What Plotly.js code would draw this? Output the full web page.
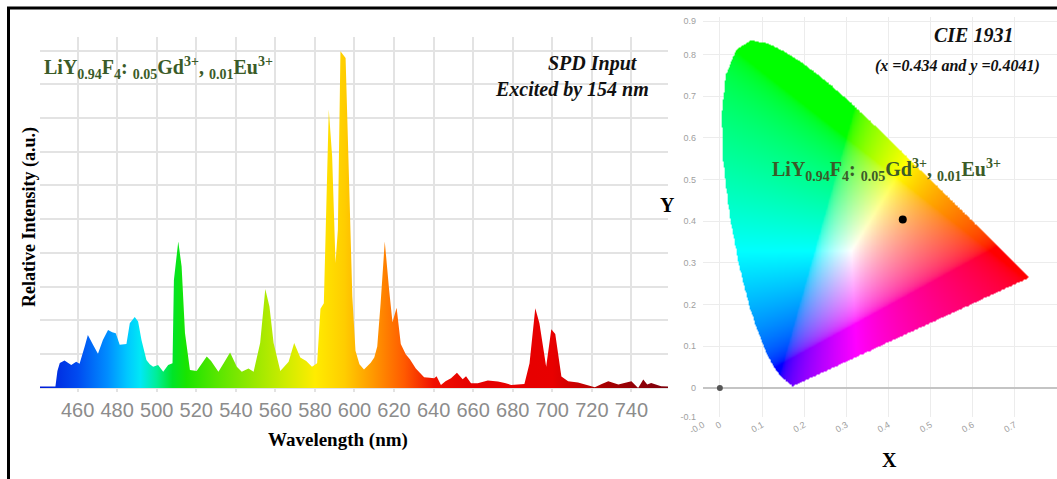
<!DOCTYPE html>
<html><head><meta charset="utf-8">
<script src="https://cdn.plot.ly/plotly-3.0.1.min.js"></script>
<style>html,body{margin:0;padding:0;background:#fff;}#chart{width:1057px;height:479px;}</style>
</head><body><div id="chart"></div>
<script>
// ---------- Emission spectrum (SPD) ----------
const wavelength = [441.0,448.8,449.8,451.0,453.4,455.0,456.8,459.3,461.0,463.6,465.2,467.8,470.3,472.8,475.4,477.5,479.3,481.3,484.7,486.4,488.9,490.6,492.3,494.8,496.5,498.2,500.7,503.3,505.8,508.0,508.7,510.9,512.6,514.3,516.8,520.2,522.5,525.3,527.5,529.5,531.2,534.0,537.1,540.5,543.0,546.4,549.0,552.3,554.9,557.0,559.1,562.5,566.7,569.5,572.6,575.6,578.5,581.1,582.8,584.5,587.0,588.7,590.4,591.6,592.9,595.5,597.1,598.9,600.5,602.5,604.8,608.2,610.0,611.5,613.2,615.3,617.5,619.2,621.3,623.4,625.9,628.0,631.0,635.2,638.0,640.3,641.5,643.7,646.0,648.8,651.8,653.5,654.7,656.4,658.9,662.3,667.4,672.5,676.0,679.2,685.9,688.5,691.4,693.5,696.9,699.5,701.5,704.6,708.0,713.0,717.0,721.5,725.0,728.3,733.4,737.0,740.0,743.4,746.0,748.0,750.0,755.0,758.5];
const intensity = [0.004,0.004,0.05,0.074,0.081,0.075,0.068,0.078,0.072,0.123,0.157,0.128,0.101,0.142,0.172,0.165,0.162,0.128,0.13,0.192,0.21,0.197,0.142,0.083,0.07,0.063,0.068,0.048,0.068,0.073,0.32,0.434,0.36,0.163,0.053,0.05,0.07,0.093,0.08,0.063,0.048,0.075,0.105,0.063,0.048,0.058,0.048,0.133,0.293,0.241,0.133,0.05,0.078,0.133,0.09,0.08,0.063,0.073,0.235,0.251,0.825,0.686,0.37,0.469,0.998,0.978,0.667,0.271,0.11,0.07,0.055,0.075,0.09,0.123,0.25,0.434,0.291,0.195,0.238,0.13,0.1,0.085,0.058,0.032,0.03,0.029,0.035,0.009,0.02,0.029,0.045,0.035,0.026,0.035,0.014,0.014,0.022,0.019,0.015,0.009,0.012,0.073,0.236,0.192,0.063,0.174,0.16,0.034,0.02,0.016,0.01,0.002,0.012,0.02,0.01,0.015,0.02,0.0,0.025,0.01,0.015,0.005,0.004];
const wavelengthTicks = [440,460,480,500,520,540,560,580,600,620,640,660,680,700,720,740,760];

// ---------- CIE 1931 2° spectral locus (x, y) ----------
const locusWavelength = [380,385,390,395,400,405,410,415,420,425,430,435,440,445,450,455,460,465,470,475,480,485,490,495,500,505,510,515,520,525,530,535,540,545,550,555,560,565,570,575,580,585,590,595,600,605,610,615,620,625,630,635,640,645,650,655,660,665,670,675,680,685,690,695,700];
const locusX = [0.1741,0.1740,0.1738,0.1736,0.1733,0.1730,0.1726,0.1721,0.1714,0.1703,0.1689,0.1669,0.1644,0.1611,0.1566,0.1510,0.1440,0.1355,0.1241,0.1096,0.0913,0.0687,0.0454,0.0235,0.0082,0.0039,0.0139,0.0389,0.0743,0.1142,0.1547,0.1929,0.2296,0.2658,0.3016,0.3373,0.3731,0.4087,0.4441,0.4788,0.5125,0.5448,0.5752,0.6029,0.6270,0.6482,0.6658,0.6801,0.6915,0.7006,0.7079,0.7140,0.7190,0.7230,0.7260,0.7283,0.7300,0.7311,0.7320,0.7327,0.7334,0.7340,0.7344,0.7346,0.7347];
const locusY = [0.0050,0.0050,0.0049,0.0049,0.0048,0.0048,0.0048,0.0048,0.0051,0.0058,0.0069,0.0086,0.0109,0.0138,0.0177,0.0227,0.0297,0.0399,0.0578,0.0868,0.1327,0.2007,0.2950,0.4127,0.5384,0.6548,0.7502,0.8120,0.8338,0.8262,0.8059,0.7816,0.7543,0.7243,0.6923,0.6589,0.6245,0.5896,0.5547,0.5202,0.4866,0.4544,0.4242,0.3965,0.3725,0.3514,0.3340,0.3197,0.3083,0.2993,0.2920,0.2859,0.2809,0.2770,0.2740,0.2717,0.2700,0.2689,0.2680,0.2673,0.2666,0.2660,0.2656,0.2654,0.2653];

const sampleX = [0.434];
const sampleY = [0.4041];
const originX = [0];
const originY = [0];
const cieXTickVals = [-0.04,0,0.1,0.2,0.3,0.4,0.5,0.6,0.7,0.8];
const cieXTickText = ['-0.0','0','0.1','0.2','0.3','0.4','0.5','0.6','0.7','0.8'];
const cieYTickVals = [-0.0695,0,0.1,0.2,0.3,0.4,0.5,0.6,0.7,0.8,0.88];
const cieYTickText = ['-0.1','0','0.1','0.2','0.3','0.4','0.5','0.6','0.7','0.8','0.9'];

// ---------- chromaticity image (colour of each xy inside the locus) ----------
const step = 0.0015, imgX0 = -0.04, imgY0 = -0.0695;
const nx = Math.ceil((0.8 - imgX0) / step) + 1;
const ny = Math.ceil((0.89 - imgY0) / step) + 1;
function insideLocus(px, py) {
  let c = false;
  const n = locusX.length;
  for (let i = 0, j = n - 1; i < n; j = i++) {
    const xi = locusX[i], yi = locusY[i], xj = locusX[j], yj = locusY[j];
    if (((yi > py) !== (yj > py)) && (px < (xj - xi) * (py - yi) / (yj - yi) + xi)) c = !c;
  }
  return c;
}
function gam(c) { return c <= 0.0031308 ? 12.92 * c : 1.055 * Math.pow(c, 1 / 2.4) - 0.055; }
const cieImage = [];
for (let i = 0; i < ny; i++) {
  const y = imgY0 + i * step;
  const row = [];
  for (let j = 0; j < nx; j++) {
    const x = imgX0 + j * step;
    if (y <= 0.001 || !insideLocus(x, y)) { row.push([255, 255, 255, 0]); continue; }
    const X = x / y, Y = 1, Z = (1 - x - y) / y;
    let r = 3.2406 * X - 1.5372 * Y - 0.4986 * Z;
    let g = -0.9689 * X + 1.8758 * Y + 0.0415 * Z;
    let b = 0.0557 * X - 0.2040 * Y + 1.0570 * Z;
    r = Math.max(r, 0); g = Math.max(g, 0); b = Math.max(b, 0);
    const m = Math.max(r, g, b) || 1;
    row.push([Math.round(255 * gam(r / m)), Math.round(255 * gam(g / m)), Math.round(255 * gam(b / m)), 1]);
  }
  cieImage.push(row);
}

const W = 1057, H = 479;
const px = v => v / W, py = v => 1 - v / H;
const serif = 'Liberation Serif, Times New Roman, serif';
const green = '#3b5b28';
const formula = '<b>LiY<sub>0.94</sub>F<sub>4</sub>: <sub>0.05</sub>Gd<sup>3+</sup>, <sub>0.01</sub>Eu<sup>3+</sup></b>';

const traces = [
  {
    type: 'scatter', x: wavelength, y: intensity, mode: 'lines',
    line: {width: 0, color: 'rgba(0,0,0,0)'},
    fill: 'tozeroy',
    fillgradient: {
      type: 'horizontal', start: 441, stop: 758.5,
      colorscale: [
        [0.0, 'rgb(0,25,215)'], [0.06, 'rgb(0,75,240)'], [0.107, 'rgb(0,140,255)'],
        [0.139, 'rgb(0,200,255)'], [0.16, 'rgb(0,232,245)'], [0.186, 'rgb(0,238,150)'],
        [0.211, 'rgb(0,228,40)'], [0.233, 'rgb(25,228,0)'], [0.28, 'rgb(85,230,0)'],
        [0.343, 'rgb(155,232,0)'], [0.39, 'rgb(205,236,0)'], [0.438, 'rgb(255,236,0)'],
        [0.485, 'rgb(255,205,0)'], [0.532, 'rgb(255,150,0)'], [0.58, 'rgb(255,90,0)'],
        [0.627, 'rgb(240,15,0)'], [0.69, 'rgb(228,0,0)'], [0.816, 'rgb(232,0,0)'],
        [0.894, 'rgb(170,0,0)'], [0.973, 'rgb(135,0,10)'], [1.0, 'rgb(125,0,10)']
      ]
    },
    xaxis: 'x', yaxis: 'y', hoverinfo: 'skip', showlegend: false
  },
  {
    type: 'image', z: cieImage, x0: imgX0, y0: imgY0, dx: step, dy: step,
    colormodel: 'rgba', zsmooth: 'fast', xaxis: 'x2', yaxis: 'y2', hoverinfo: 'skip'
  },
  {
    type: 'scatter', x: originX, y: originY, mode: 'markers',
    marker: {size: 6, color: '#555'}, xaxis: 'x2', yaxis: 'y2', hoverinfo: 'skip', showlegend: false
  },
  {
    type: 'scatter', x: sampleX, y: sampleY, mode: 'markers',
    marker: {size: 8, color: '#000'}, xaxis: 'x2', yaxis: 'y2', hoverinfo: 'skip', showlegend: false
  }
];

const layout = {
  width: W, height: H,
  margin: {l: 0, r: 0, t: 0, b: 0},
  paper_bgcolor: '#fff', plot_bgcolor: '#fff',
  showlegend: false,
  xaxis: {
    domain: [px(40), px(668)], range: [441, 758.5], tickvals: wavelengthTicks,
    ticks: '', showline: false, zeroline: false, showgrid: true, gridcolor: '#e3e3e3', gridwidth: 2,
    tickfont: {family: 'Liberation Sans Narrow, Arial Narrow, Liberation Sans, sans-serif', size: 20, color: '#8c8c8c'},
    ticklabelstandoff: 4, anchor: 'y', fixedrange: true
  },
  yaxis: {
    domain: [1 - 392 / H, 1 - 37 / H], range: [-0.012, 1.04], tick0: 0, dtick: 0.1,
    showticklabels: false, ticks: '', showline: false, zeroline: false,
    showgrid: true, gridcolor: '#e3e3e3', gridwidth: 2, anchor: 'x', fixedrange: true
  },
  xaxis2: {
    domain: [px(703), 1], range: [-0.04, 0.8], tickvals: cieXTickVals, ticktext: cieXTickText,
    tickangle: -30, ticks: '', showline: false, zeroline: false, showgrid: true,
    gridcolor: '#ececec', gridwidth: 1,
    tickfont: {family: 'Liberation Sans, Arial, sans-serif', size: 9, color: '#a0a0a0'},
    anchor: 'y2', fixedrange: true
  },
  yaxis2: {
    domain: [1 - 417 / H, 1 - 17 / H], range: [-0.0695, 0.89], tickvals: cieYTickVals, ticktext: cieYTickText,
    ticks: '', showline: false, zeroline: true, zerolinecolor: '#c4c4c4', zerolinewidth: 1.5,
    showgrid: true, gridcolor: '#ececec', gridwidth: 1,
    tickfont: {family: 'Liberation Sans, Arial, sans-serif', size: 9, color: '#a0a0a0'},
    ticklabelstandoff: 6, anchor: 'x2', scaleanchor: false, autorange: false, fixedrange: true
  },
  annotations: [
    {text: formula, x: px(42), y: py(68), xref: 'paper', yref: 'paper', xanchor: 'left', yanchor: 'middle', showarrow: false, font: {family: serif, size: 20, color: green}},
    {text: formula, x: px(770), y: py(170), xref: 'paper', yref: 'paper', xanchor: 'left', yanchor: 'middle', showarrow: false, font: {family: serif, size: 20, color: green}},
    {text: '<b><i>SPD Input</i></b>', x: px(593), y: py(63), xref: 'paper', yref: 'paper', xanchor: 'center', yanchor: 'middle', showarrow: false, font: {family: serif, size: 20, color: '#111'}},
    {text: '<b><i>Excited by 154 nm</i></b>', x: px(572), y: py(89), xref: 'paper', yref: 'paper', xanchor: 'center', yanchor: 'middle', showarrow: false, font: {family: serif, size: 20, color: '#111'}},
    {text: '<b><i>CIE 1931</i></b>', x: px(973), y: py(35), xref: 'paper', yref: 'paper', xanchor: 'center', yanchor: 'middle', showarrow: false, font: {family: serif, size: 20, color: '#111'}},
    {text: '<b><i>(x =0.434 and y =0.4041)</i></b>', x: px(957), y: py(66), xref: 'paper', yref: 'paper', xanchor: 'center', yanchor: 'middle', showarrow: false, font: {family: serif, size: 16, color: '#111'}},
    {text: '<b>Relative Intensity (a.u.)</b>', x: px(30), y: py(217), xref: 'paper', yref: 'paper', xanchor: 'center', yanchor: 'middle', textangle: -90, showarrow: false, font: {family: serif, size: 18, color: '#000'}},
    {text: '<b>Wavelength (nm)</b>', x: px(338), y: py(440), xref: 'paper', yref: 'paper', xanchor: 'center', yanchor: 'middle', showarrow: false, font: {family: serif, size: 19, color: '#000'}},
    {text: '<b>Y</b>', x: px(667), y: py(205), xref: 'paper', yref: 'paper', xanchor: 'center', yanchor: 'middle', showarrow: false, font: {family: serif, size: 20, color: '#000'}},
    {text: '<b>X</b>', x: px(889), y: py(460), xref: 'paper', yref: 'paper', xanchor: 'center', yanchor: 'middle', showarrow: false, font: {family: serif, size: 20, color: '#000'}}
  ],
  shapes: [
    {type: 'line', xref: 'paper', yref: 'paper', x0: px(7), x1: 1, y0: py(8), y1: py(8), line: {color: '#000', width: 3}},
    {type: 'line', xref: 'paper', yref: 'paper', x0: px(8.5), x1: px(8.5), y0: 0, y1: py(7), line: {color: '#000', width: 3}}
  ]
};

Plotly.newPlot('chart', traces, layout, {displayModeBar: false, staticPlot: true});
</script>
</body></html>
